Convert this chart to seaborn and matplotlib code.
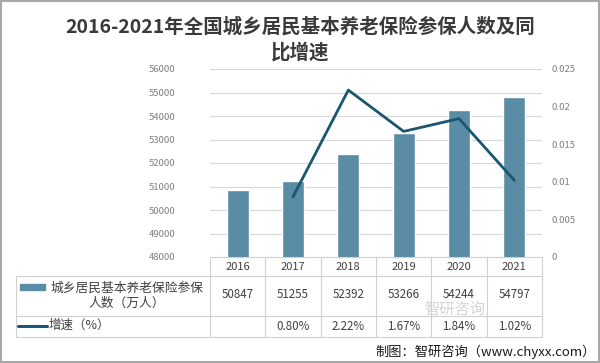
import matplotlib
matplotlib.use("Agg")
import matplotlib.pyplot as plt
import seaborn as sns
import pandas as pd
from matplotlib.lines import Line2D
from matplotlib.patches import Rectangle

years = ["2016", "2017", "2018", "2019", "2020", "2021"]
members = [50847, 51255, 52392, 53266, 54244, 54797]
growth = [None, 0.0080, 0.0222, 0.0167, 0.0184, 0.0102]
growth_labels = ["", "0.80%", "2.22%", "1.67%", "1.84%", "1.02%"]
bar_name = "城乡居民基本养老保险参保\n人数（万人）"
line_name = "增速（%）"
title = "2016-2021年全国城乡居民基本养老保险参保人数及同\n比增速"
source = "制图：智研咨询（www.chyxx.com）"
watermark = "智研咨询"

sns.set_theme(style="white")
plt.rcParams['font.family'] = ['Noto Sans CJK SC', 'DejaVu Sans']

W, H = 600, 363
fig = plt.figure(figsize=(6, 3.63), dpi=100)
def fx(x): return x / W
def fy(y): return 1 - y / H

ax = fig.add_axes([fx(210), fy(257), fx(542) - fx(210), fy(69) - fy(257)])
df = pd.DataFrame({"year": years, "members": members})
bar_color = "#5b8ca6"
line_color = "#1a5670"
sns.barplot(data=df, x="year", y="members", color=bar_color, width=0.4,
            saturation=1, ax=ax)
ax.set_ylim(48000, 56000)
ax.set_yticks(range(48000, 56001, 1000))
ax.set_xlim(-0.5, 5.5)
ax.set_xlabel("")
ax.set_ylabel("")
ax.set_xticklabels([])
ax.tick_params(axis="x", length=0)
ax.tick_params(axis="y", labelsize=6.8, labelcolor="#7f7f7f", length=0, pad=25)
ax.yaxis.grid(True, color="#d9d9d9", linewidth=0.8)
ax.set_axisbelow(True)
for s in ax.spines.values():
    s.set_visible(False)

ax2 = ax.twinx()
ldf = pd.DataFrame({"x": list(range(1, 6)), "g": growth[1:]})
sns.lineplot(data=ldf, x="x", y="g", color=line_color, linewidth=2.0, ax=ax2)
ax2.set_ylim(0, 0.025)
ax2.set_yticks([0, 0.005, 0.01, 0.015, 0.02, 0.025])
ax2.set_yticklabels(["0", "0.005", "0.01", "0.015", "0.02", "0.025"])
ax2.tick_params(axis="y", labelsize=6.8, labelcolor="#7f7f7f", length=0, pad=7)
ax2.set_xlabel("")
ax2.set_ylabel("")
ax2.set_xlim(-0.5, 5.5)
for s in ax2.spines.values():
    s.set_visible(False)

# title
fig.text(fx(300), fy(40), title, ha="center", va="center", fontsize=14,
         fontweight="bold", color="#3a3a3a", linespacing=1.35)

# table
gc = "#d0d0d0"
col_edges = [210 + i * (542 - 210) / 6 for i in range(7)]
def hline(y, x0, x1):
    fig.add_artist(Line2D([fx(x0), fx(x1)], [fy(y), fy(y)], color=gc, lw=0.8))
def vline(x, y0, y1):
    fig.add_artist(Line2D([fx(x), fx(x)], [fy(y0), fy(y1)], color=gc, lw=0.8))
hline(257, 210, 542)
hline(276, 16, 542)
hline(316, 16, 542)
hline(337, 16, 542)
for x in col_edges:
    vline(x, 257, 337)
vline(16, 276, 337)

# watermark (kept in the gap between table rows)
fig.text(fx(455), fy(309), watermark, ha="center", va="center", fontsize=11,
         color="#d4d4d4", zorder=0)

tc = "#404040"
for i, yr in enumerate(years):
    cx = (col_edges[i] + col_edges[i + 1]) / 2
    fig.text(fx(cx), fy(267), yr, ha="center", va="center", fontsize=8, color=tc)
    fig.text(fx(cx), fy(295), str(members[i]), ha="center", va="center", fontsize=8.3, color=tc)
    fig.text(fx(cx), fy(326), growth_labels[i], ha="center", va="center", fontsize=8.3, color=tc)

fig.add_artist(Rectangle((fx(20), fy(290)), fx(45) - fx(20), fy(284) - fy(290),
                         color=bar_color, transform=fig.transFigure))
fig.text(fx(127), fy(296), bar_name, ha="center", va="center", fontsize=9.2,
         color=tc, linespacing=1.25)
fig.add_artist(Line2D([fx(18), fx(47)], [fy(326), fy(326)], color=line_color, lw=2.2))
fig.text(fx(49), fy(325), line_name, ha="left", va="center", fontsize=9, color=tc)

# source
fig.text(fx(596), fy(352), source, ha="right", va="center", fontsize=9.5, color="#1a1a1a")

# border
fig.add_artist(Rectangle((0.002, 0.003), 0.996, 0.994, fill=False,
                         edgecolor="#a8a8a8", lw=1.5, transform=fig.transFigure))

fig.savefig("out.png", dpi=100)
